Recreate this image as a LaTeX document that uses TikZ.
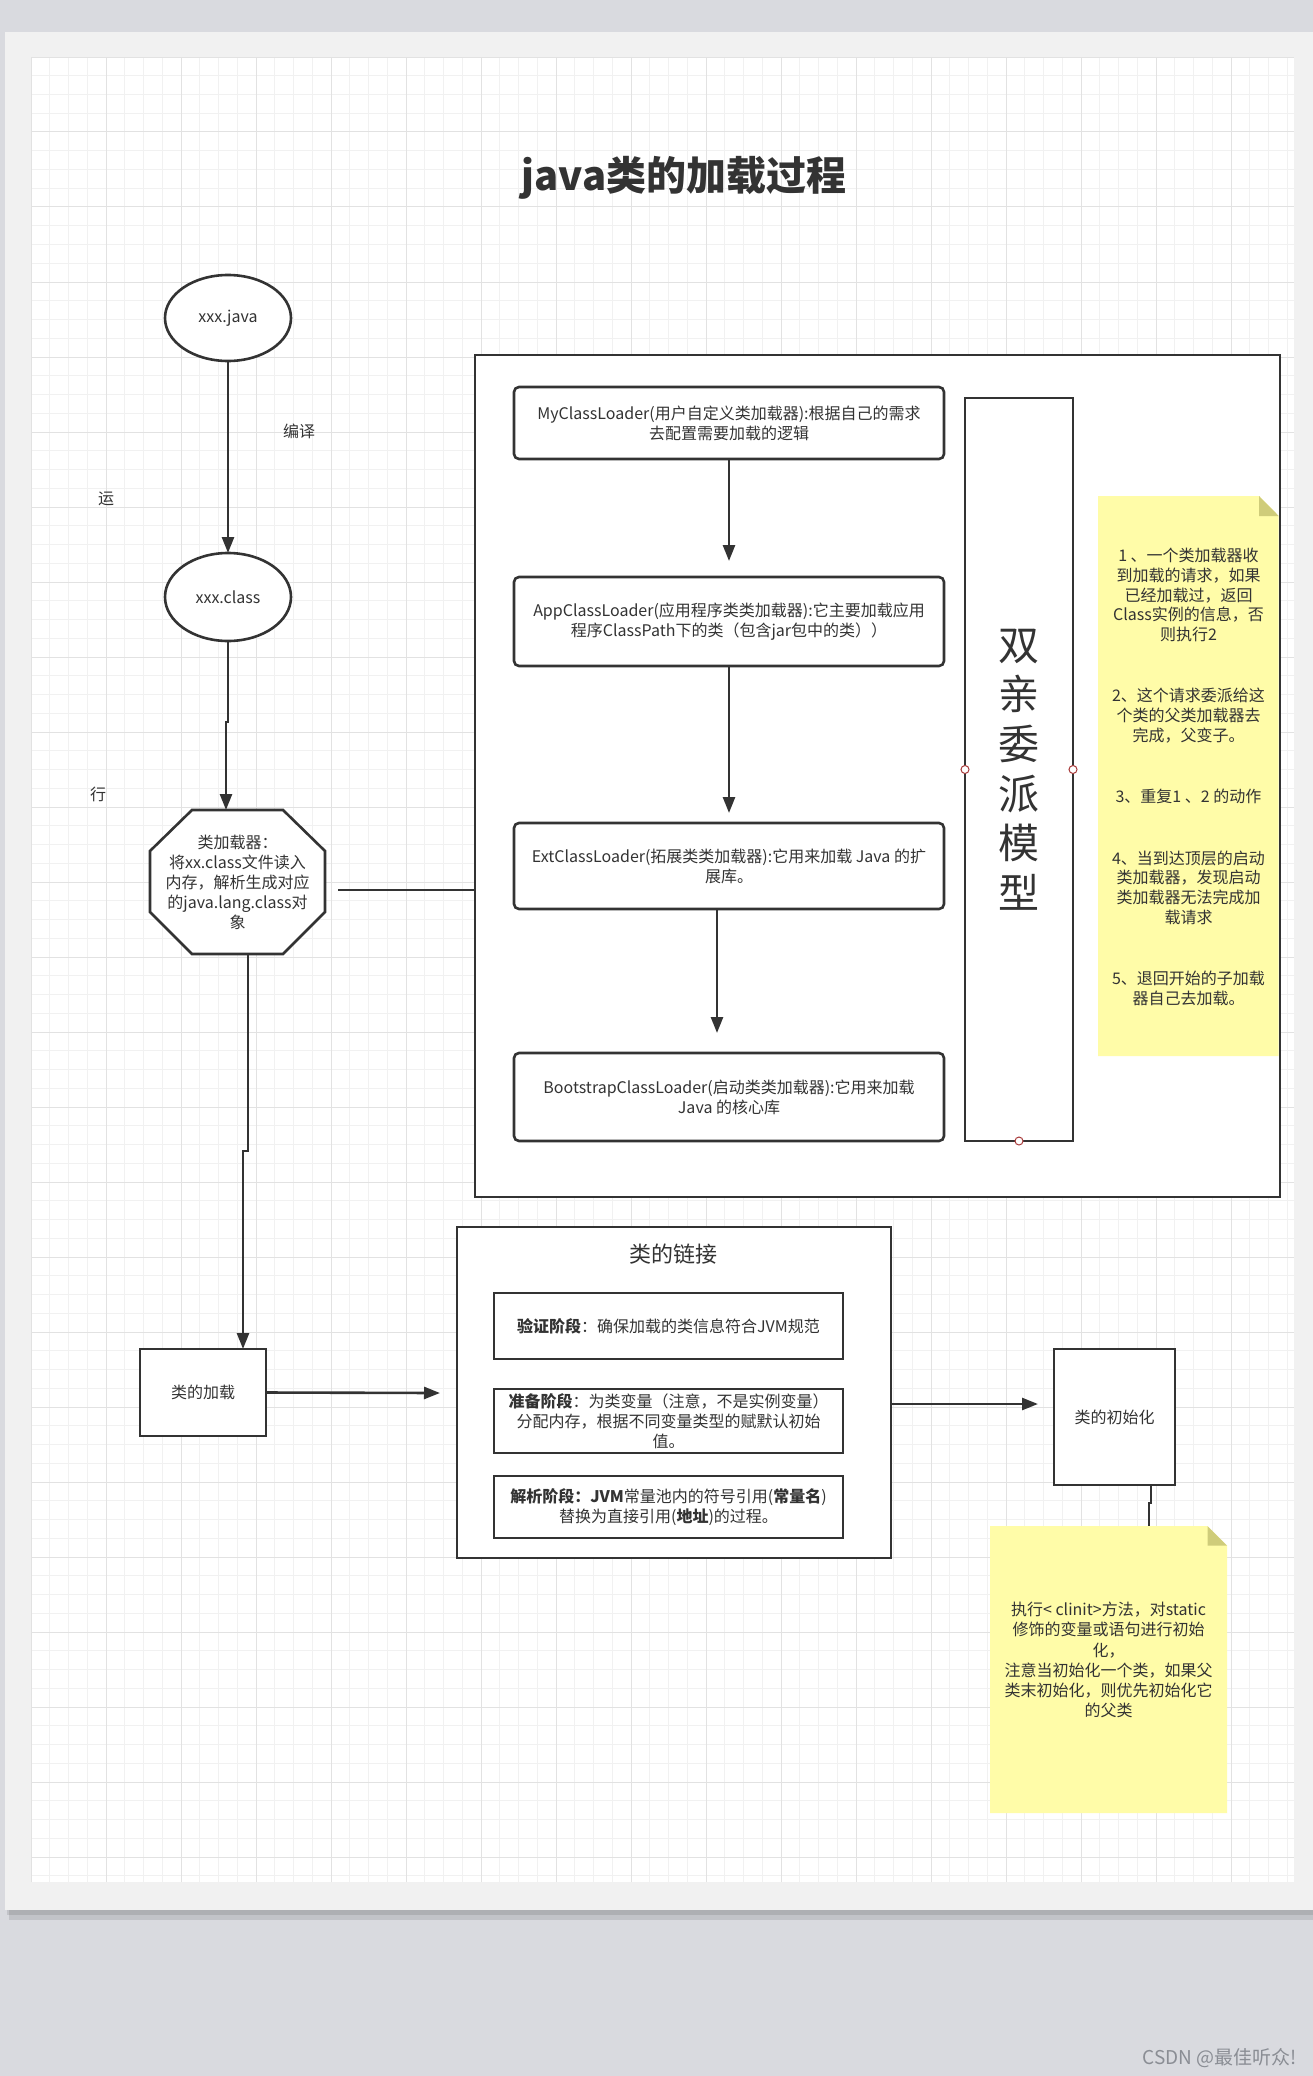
\documentclass[tikz,border=0pt]{standalone}
\usepackage{fontspec}
\setmainfont{Noto Sans CJK SC}
\usetikzlibrary{arrows.meta,shapes.geometric,calc}
\definecolor{linec}{HTML}{333333}
\definecolor{textc}{HTML}{333333}
\definecolor{bgc}{HTML}{D9DADF}
\definecolor{pagec}{HTML}{F1F1F1}
\definecolor{gridminor}{HTML}{F1F1F1}
\definecolor{gridmajor}{HTML}{E2E2E2}
\definecolor{notec}{HTML}{FFFCA8}
\definecolor{foldc}{HTML}{CFCC7A}
\definecolor{pinc}{HTML}{A83A3A}
\definecolor{markc}{HTML}{8A8D94}
\begin{document}
\begin{tikzpicture}[x=1pt,y=-1pt,
  txt/.style={text=textc,font=\fontsize{16}{20}\selectfont,align=center,inner sep=0pt,outer sep=0pt},
  shapebox/.style={txt,draw=linec,line width=2.6pt,fill=white},
  loader/.style={shapebox,rounded corners=5pt,minimum width=430pt},
  stage/.style={shapebox,line width=2.8pt,minimum width=349pt},
  oval/.style={shapebox,ellipse,minimum width=126pt},
  arr/.style={draw=linec,line width=2.6pt,-{Triangle[length=16pt,width=12pt]}},
  conn/.style={draw=linec,line width=2.6pt},
  pin/.style={circle,draw=pinc,line width=1pt,fill=white,minimum size=8pt,inner sep=0pt}
]
\useasboundingbox (0,0) rectangle (1313,2076);
% background and page
\fill[bgc] (0,0) rectangle (1313,2076);
\fill[black,opacity=0.10] (9,38) rectangle (1313,1920);
\fill[black,opacity=0.10] (7,35) rectangle (1313,1915);
\fill[pagec] (5,32) rectangle (1313,1910);
\fill[white] (31,57) rectangle (1294,1882);
\begin{scope}[shift={(31,57)}]
  \clip (0,0) rectangle (1263,1825);
  \draw[gridminor,line width=1pt,step=18.75pt] (0,0) grid (1263,1825);
  \draw[gridmajor,line width=1pt,step=75pt] (0,0) grid (1263,1825);
\end{scope}

% title
\node[txt,font=\fontsize{40}{48}\selectfont\bfseries] (title) at (684,178) {java类的加载过程};

% left column
\node[oval,minimum height=86pt] (java) at (228,318) {xxx.java};
\node[oval,minimum height=88pt] (cls) at (228,597) {xxx.class};
\node[txt] (lbl1) at (299,431) {编译};
\node[txt] (lbl2) at (106,499) {运};
\node[txt] (lbl3) at (98,794) {行};

\draw[linec,line width=2.6pt,fill=white] (192,810) -- (283,810) -- (325,851) -- (325,912) -- (283,954) -- (192,954) -- (150,912) -- (150,851) -- cycle;
\node[txt,minimum width=175pt,minimum height=144pt] (oct) at (237.5,882) {类加载器：\\将xx.class文件读入\\内存，解析生成对应\\的java.lang.class对\\象};

\draw[arr] (java) -- (cls);
\draw[arr] (cls.south) -- ++(0,81) -- ++(-2,0) -- ($(oct.north)+(-11.5,0)$);

% delegation frame
\node[shapebox,minimum width=805pt,minimum height=842pt,line width=2.5pt] (frame) at (877.5,776) {};
\coordinate (ocfree) at (338,890);
\draw[conn] (ocfree) -- (ocfree -| frame.west);

\node[loader,minimum height=72pt] (my) at (729,423) {MyClassLoader(用户自定义类加载器):根据自己的需求\\去配置需要加载的逻辑};
\node[loader,minimum height=89pt] (app) at (729,621.5) {AppClassLoader(应用程序类类加载器):它主要加载应用\\程序ClassPath下的类（包含jar包中的类））};
\node[loader,minimum height=86pt] (ext) at (729,866) {ExtClassLoader(拓展类类加载器):它用来加载 Java 的扩\\展库。};
\node[loader,minimum height=88pt] (boot) at (729,1097) {BootstrapClassLoader(启动类类加载器):它用来加载\\Java 的核心库};

\draw[arr] (my.south) -- ($(app.north)+(0,-16)$);
\draw[arr] (app.south) -- ($(ext.north)+(0,-10)$);
\draw[arr] ($(ext.south)+(-12,0)$) -- ($(boot.north)+(-12,-20)$);

\node[shapebox,minimum width=108pt,minimum height=743pt,font=\fontsize{41}{49.6}\selectfont] (dual) at (1019,769.5) {双\\亲\\委\\派\\模\\型};
\node[pin] (pinw) at (dual.west) {};
\node[pin] (pine) at (dual.east) {};
\node[pin] (pins) at (dual.south) {};

% note 1
\fill[notec] (1098,496) -- (1259,496) -- (1278.7,516) -- (1278.7,1056) -- (1098,1056) -- cycle;
\fill[foldc] (1259,496) -- (1278.7,516) -- (1259,516) -- cycle;
\node[txt,font=\fontsize{16}{19.6}\selectfont] (note1) at (1188.5,777) {1 、一个类加载器收\\到加载的请求，如果\\已经加载过，返回\\Class实例的信息，否\\则执行2\\[42pt]2、这个请求委派给这\\个类的父类加载器去\\完成，父变子。\\[42pt]3、重复1 、2 的动作\\[42pt]4、当到达顶层的启动\\类加载器，发现启动\\类加载器无法完成加\\载请求\\[42pt]5、退回开始的子加载\\器自己去加载。};

% loading
\node[shapebox,minimum width=126pt,minimum height=87pt,line width=2.8pt] (load) at (203,1392.5) {类的加载};
\draw[arr] ($(oct.south)+(10.5,0)$) -- ++(0,197) -- ++(-5,0) -- ($(load.north)+(40,0)$);
\coordinate (lkin) at (440,1393);
\draw[arr] (load.east) -- (lkin);

% linking
\node[shapebox,minimum width=434pt,minimum height=331pt] (link) at (674,1392.5) {};
\node[txt,font=\fontsize{22}{26}\selectfont] (linkt) at (673,1254) {类的链接};
\node[stage,minimum height=66pt] (vs) at (668.5,1326) {\textbf{验证阶段}：确保加载的类信息符合JVM规范};
\node[stage,minimum height=64pt] (ps) at (668.5,1421) {\textbf{准备阶段}：为类变量（注意，不是实例变量）\\分配内存，根据不同变量类型的赋默认初始\\值。};
\node[stage,minimum height=62pt] (rs) at (668.5,1507) {\textbf{解析阶段：JVM}常量池内的符号引用(\textbf{常量名})\\替换为直接引用(\textbf{地址})的过程。};

% initialisation
\node[shapebox,minimum width=121pt,minimum height=136pt,line width=2.8pt] (init) at (1114.5,1417) {类的初始化};
\coordinate (initin) at (1038,1404);
\draw[arr] (initin -| link.east) -- (initin);

\fill[notec] (990,1526) -- (1207.5,1526) -- (1227,1545.5) -- (1227,1813) -- (990,1813) -- cycle;
\fill[foldc] (1207.5,1526) -- (1227,1545.5) -- (1207.5,1545.5) -- cycle;
\coordinate (n2top) at (1149,1526);
\draw[conn] ($(init.south)+(36.5,0)$) -- ++(0,18) -- ++(-2,0) -- (n2top);
\node[txt,font=\fontsize{16}{20.2}\selectfont] (note2) at (1108.5,1660) {执行< clinit>方法，对static\\修饰的变量或语句进行初始\\化，\\注意当初始化一个类，如果父\\类末初始化，则优先初始化它\\的父类};

% watermark
\node[txt,text=markc,font=\fontsize{19}{22}\selectfont] (mark) at (1220,2058) {CSDN @最佳听众!};
\end{tikzpicture}
\end{document}
